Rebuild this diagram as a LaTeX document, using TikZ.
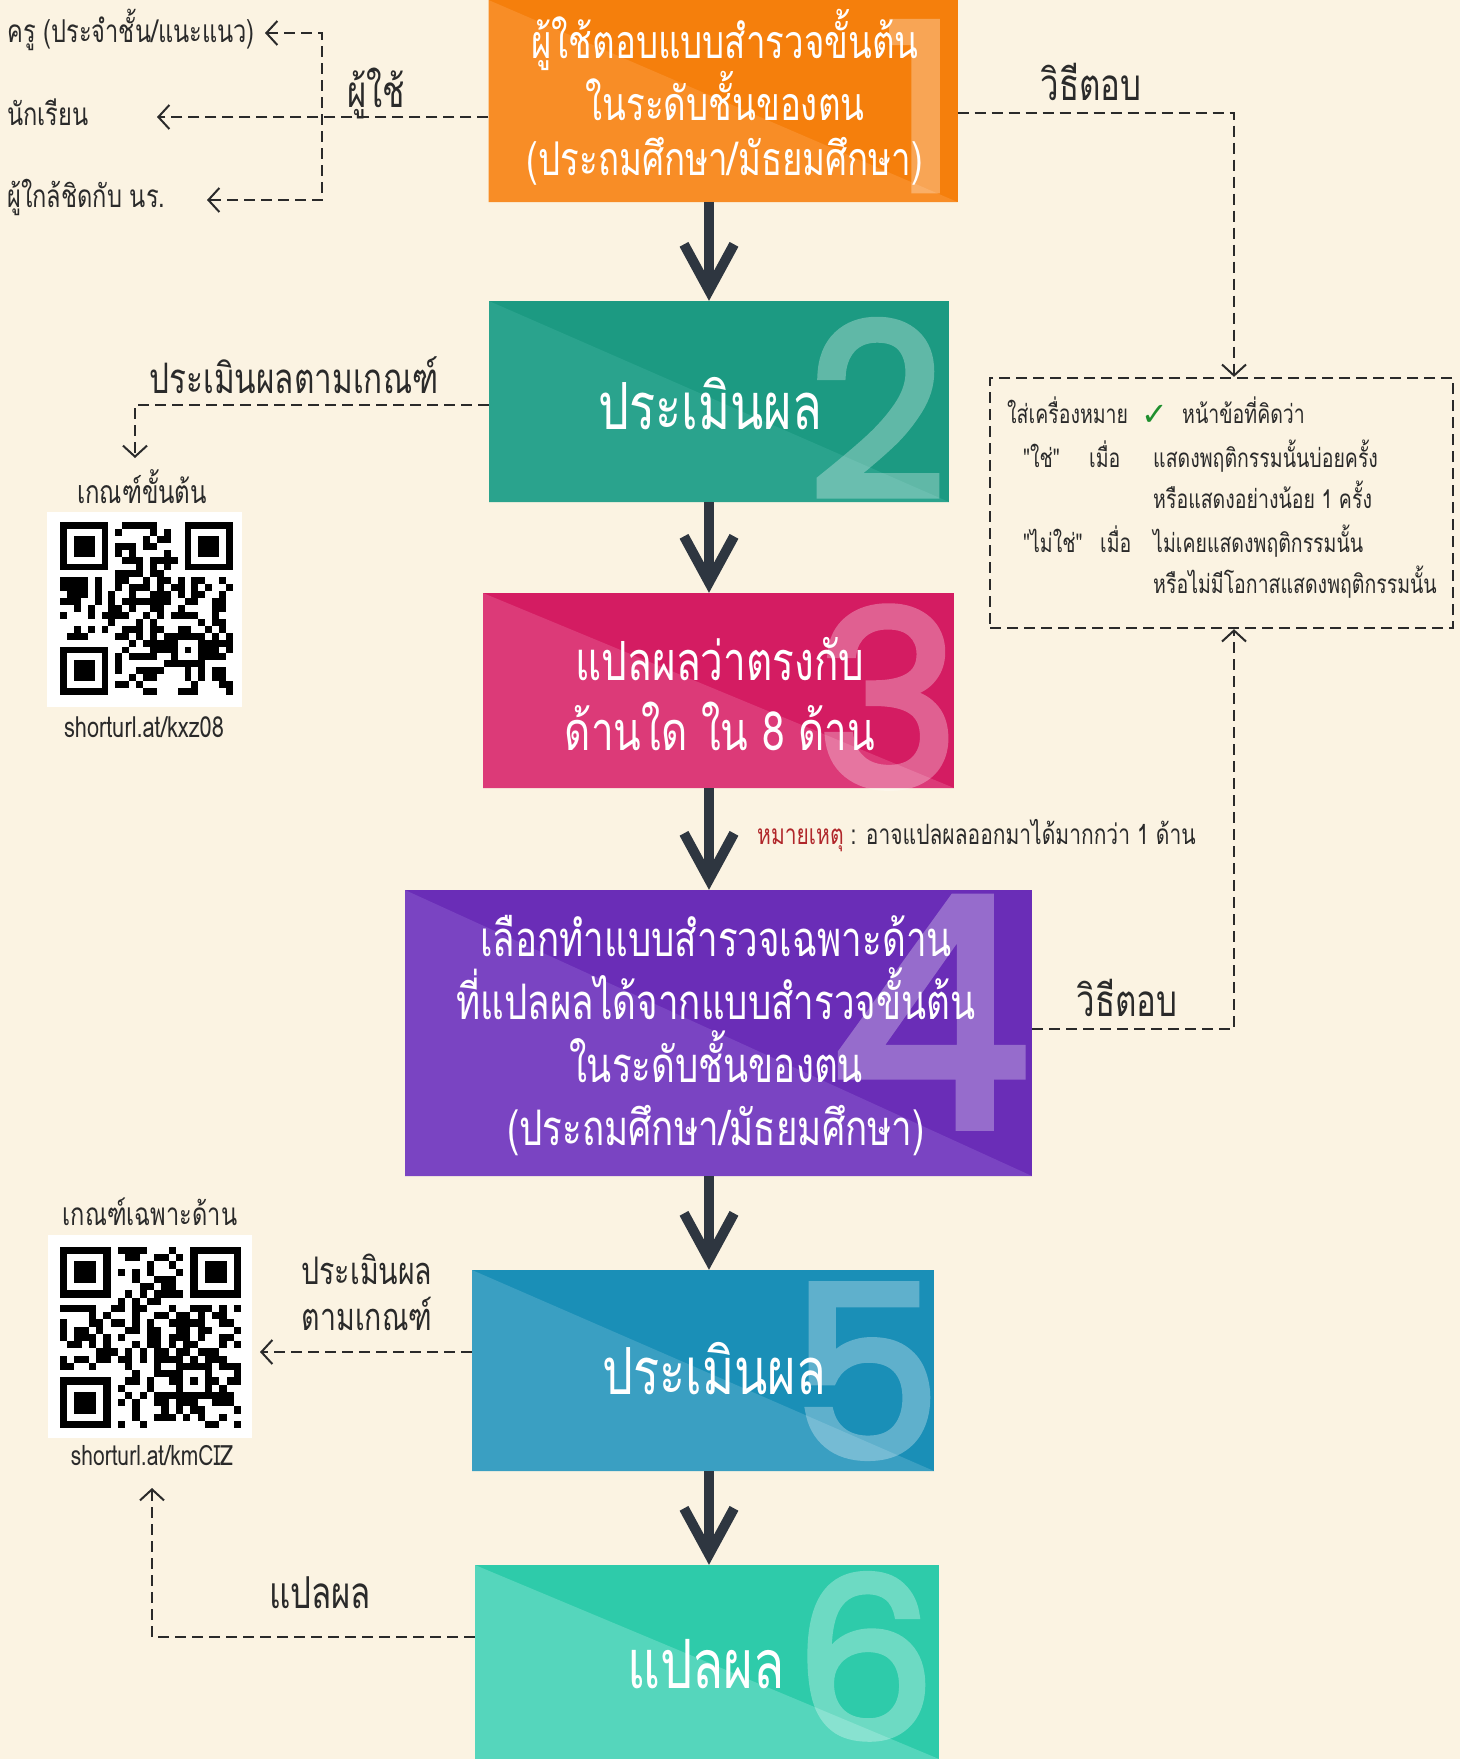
\documentclass[tikz,border=0pt]{standalone}
\usepackage{fontspec}
\usetikzlibrary{arrows.meta}
\newfontfamily\thai[Script=Thai,FakeStretch=0.75]{Loma}
\newfontfamily\numf[FakeBold=3]{Poppins}
\newfontfamily\dv{DejaVu Sans}
\definecolor{bg}{HTML}{FBF3E2}
\definecolor{ink}{HTML}{2A2A2A}
\definecolor{arrowc}{HTML}{2E3640}
\definecolor{noter}{HTML}{B0262A}
\definecolor{chk}{HTML}{1F8F2E}
\definecolor{oA}{HTML}{F57F0C}\definecolor{oB}{HTML}{F88D26}
\definecolor{gA}{HTML}{1C9A82}\definecolor{gB}{HTML}{2AA38D}
\definecolor{pA}{HTML}{D41C62}\definecolor{pB}{HTML}{DC3A78}
\definecolor{vA}{HTML}{6A2DB7}\definecolor{vB}{HTML}{7A44C2}
\definecolor{bA}{HTML}{1A8FB7}\definecolor{bB}{HTML}{3A9FC2}
\definecolor{tA}{HTML}{2ECBAA}\definecolor{tB}{HTML}{55D6BC}
\newcommand\myfs[2]{\fontsize{#1}{#2}\selectfont}
% QR-like pattern: x0, y0, module size, seed
\newcommand\myqr[4]{%
  \pgfmathsetseed{#4}%
  \foreach \i in {0,...,24}{\foreach \j in {0,...,24}{%
    \pgfmathparse{(rnd>0.5)&&!((\i<8)&&(\j<8))&&!((\i>16)&&(\j<8))&&!((\i<8)&&(\j>16))}%
    \ifdim\pgfmathresult pt>0.5pt
      \fill[black] ({#1+\i*#3},{#2+\j*#3}) rectangle ++(#3,#3);
    \fi
  }}%
  \foreach \a/\b in {0/0,18/0,0/18}{%
    \fill[black] ({#1+\a*#3},{#2+\b*#3}) rectangle ++({7*#3},{7*#3});
    \fill[white] ({#1+(\a+1)*#3},{#2+(\b+1)*#3}) rectangle ++({5*#3},{5*#3});
    \fill[black] ({#1+(\a+2)*#3},{#2+(\b+2)*#3}) rectangle ++({3*#3},{3*#3});
  }%
  \fill[black] ({#1+16*#3},{#2+16*#3}) rectangle ++({5*#3},{5*#3});
  \fill[white] ({#1+17*#3},{#2+17*#3}) rectangle ++({3*#3},{3*#3});
  \fill[black] ({#1+18*#3},{#2+18*#3}) rectangle ++({#3},{#3});
}
\tikzset{
  sbarb/.tip={Straight Barb[length=11pt,width=24pt,line width=2pt]},
}
\begin{document}
\begin{tikzpicture}[x=1pt,y=-1pt,
  stepbox/.style n args={2}{fill=#1, inner sep=0pt, path picture={\fill[#2] (path picture bounding box.north west) -- (path picture bounding box.south east) -- (path picture bounding box.south west) -- cycle;}},
  boxtxt/.style={text=white, align=center, inner sep=0pt},
  numtxt/.style={text=white, font=\numf\myfs{#1}{#1}, anchor=base, inner sep=0pt},
  numgrp/.style={transparency group, opacity=0.3},
  lab/.style={text=ink, inner sep=0pt, anchor=base},
  dl/.style={draw=ink, line width=2.3pt, dash pattern=on 11pt off 6pt},
  bigarr/.style={draw=arrowc, line width=10pt, -{Straight Barb[length=46pt,width=50pt,line width=10pt]}},
]
\fill[bg] (0,0) rectangle (1460,1759);
\useasboundingbox (0,0) rectangle (1460,1759);

% ---------- boxes ----------
\node[stepbox={oA}{oB}, minimum width=469pt, minimum height=202pt] (b1) at (723,101) {};
\node[stepbox={gA}{gB}, minimum width=460pt, minimum height=201pt] (b2) at (719,401.5) {};
\node[stepbox={pA}{pB}, minimum width=471pt, minimum height=195pt] (b3) at (718.5,690.5) {};
\node[stepbox={vA}{vB}, minimum width=627pt, minimum height=286pt] (b4) at (718.5,1033) {};
\node[stepbox={bA}{bB}, minimum width=462pt, minimum height=201pt] (b5) at (703,1370.5) {};
\node[stepbox={tA}{tB}, minimum width=464pt, minimum height=194pt] (b6) at (707,1662) {};

% ---------- big numbers ----------
\begin{scope}[numgrp]\node[numtxt=232] (n1) at (921,190) {1};\end{scope}
\begin{scope}[numgrp]\node[numtxt=240] (n2) at (877,497) {2};\end{scope}
\begin{scope}[numgrp]\node[numtxt=243] (n3) at (888,786) {3};\end{scope}
\begin{scope}[numgrp]\node[numtxt=318] (n4) at (930,1126) {4};\end{scope}
\begin{scope}[numgrp]\node[numtxt=238] (n5) at (866,1457) {5};\end{scope}
\begin{scope}[numgrp]\node[numtxt=222] (n6) at (865,1738) {6};\end{scope}

% ---------- box texts ----------
\node[boxtxt, font=\thai\myfs{46.5}{55}] (t1) at (725,97) {ผู้ใช้ตอบแบบสำรวจขั้นต้น\\ในระดับชั้นของตน\\(ประถมศึกษา/มัธยมศึกษา)};
\node[boxtxt, font=\thai\myfs{65}{70}] (t2) at (710,404) {ประเมินผล};
\node[boxtxt, font=\thai\myfs{54}{70}] (t3) at (720,694) {แปลผลว่าตรงกับ\\ด้านใด ใน 8 ด้าน};
\node[boxtxt, font=\thai\myfs{49}{63}] (t4) at (716,1036) {เลือกทำแบบสำรวจเฉพาะด้าน\\ที่แปลผลได้จากแบบสำรวจขั้นต้น\\ในระดับชั้นของตน\\(ประถมศึกษา/มัธยมศึกษา)};
\node[boxtxt, font=\thai\myfs{65}{70}] (t5) at (714,1369) {ประเมินผล};
\node[boxtxt, font=\thai\myfs{68}{70}] (t6) at (706,1664) {แปลผล};

% ---------- main arrows ----------
\coordinate (ax) at (709,0);
\draw[bigarr] (b1.south -| ax) -- (b2.north -| ax);
\draw[bigarr] (b2.south -| ax) -- (b3.north -| ax);
\draw[bigarr] (b3.south -| ax) -- (b4.north -| ax);
\draw[bigarr] (b4.south -| ax) -- (b5.north -| ax);
\draw[bigarr] (b5.south -| ax) -- (b6.north -| ax);

% ---------- top-left users ----------
\node[lab, anchor=base west, font=\thai\myfs{31.5}{31.5}] (kru) at (7,42) {ครู (ประจำชั้น/แนะแนว)};
\node[lab, anchor=base west, font=\thai\myfs{31.5}{31.5}] (nak) at (7,125) {นักเรียน};
\node[lab, anchor=base west, font=\thai\myfs{31.5}{31.5}] (pu) at (7,207) {ผู้ใกล้ชิดกับ นร.};
\node[lab, font=\thai\myfs{44}{44}] (luser) at (376,107) {ผู้ใช้};
\coordinate (jTop) at (322,33);
\coordinate (jBot) at (322,200);
\coordinate (tipKru) at (265,33);
\coordinate (tipNak) at (157,117);
\coordinate (tipPu) at (207,200);
\draw[dl, sbarb-sbarb] (tipKru) -- (jTop) -- (jBot) -- (tipPu);
\draw[dl, -sbarb] ([yshift=-16pt]b1.west) -- (tipNak);

% ---------- right dashed box ----------
\node[draw=ink, line width=2.3pt, dash pattern=on 11pt off 6pt, minimum width=463pt, minimum height=250pt, inner sep=0pt] (db) at (1221.5,503) {};
\coordinate (rx) at (1234,0);
\node[lab, font=\thai\myfs{44}{44}] (lhow1) at (1091,100) {วิธีตอบ};
\draw[dl, -sbarb] ([yshift=-12pt]b1.east) -| (db.north -| rx);
\node[lab, font=\thai\myfs{44}{44}] (lhow2) at (1127,1016) {วิธีตอบ};
\draw[dl, -sbarb] ([yshift=4pt]b4.east) -| (db.south -| rx);

\node[lab, anchor=base west, font=\thai\myfs{26}{26}] (d1a) at (1007,423) {ใส่เครื่องหมาย};
\node[lab, anchor=base west, text=chk, font=\dv\myfs{32}{32}] (d1b) at (1141,425) {✓};
\node[lab, anchor=base west, font=\thai\myfs{26}{26}] (d1c) at (1182,423) {หน้าข้อที่คิดว่า};
\node[lab, anchor=base west, font=\thai\myfs{26}{26}] (d2a) at (1023,467) {"ใช่"};
\node[lab, anchor=base west, font=\thai\myfs{26}{26}] (d2b) at (1089,467) {เมื่อ};
\node[lab, anchor=base west, font=\thai\myfs{26}{26}] (d2c) at (1153,467) {แสดงพฤติกรรมนั้นบ่อยครั้ง};
\node[lab, anchor=base west, font=\thai\myfs{26}{26}] (d3c) at (1153,508) {หรือแสดงอย่างน้อย 1 ครั้ง};
\node[lab, anchor=base west, font=\thai\myfs{26}{26}] (d4a) at (1023,552) {"ไม่ใช่"};
\node[lab, anchor=base west, font=\thai\myfs{26}{26}] (d4b) at (1100,552) {เมื่อ};
\node[lab, anchor=base west, font=\thai\myfs{26}{26}] (d4c) at (1153,552) {ไม่เคยแสดงพฤติกรรมนั้น};
\node[lab, anchor=base west, font=\thai\myfs{26}{26}] (d5c) at (1153,593) {หรือไม่มีโอกาสแสดงพฤติกรรมนั้น};

% ---------- note ----------
\node[lab, anchor=base west, font=\thai\myfs{28}{28}] (note) at (757,844) {{\color{noter}หมายเหตุ} : อาจแปลผลออกมาได้มากกว่า 1 ด้าน};

% ---------- left: first QR ----------
\node[lab, font=\thai\myfs{42}{42}] (lcrit1) at (294,393) {ประเมินผลตามเกณฑ์};
\coordinate (tipQ1) at (135,458);
\draw[dl, -sbarb] ([yshift=-3.5pt]b2.west) -| (tipQ1);
\node[lab, font=\thai\myfs{32}{32}] (lq1) at (142,503) {เกณฑ์ขั้นต้น};
\fill[white] (47,512) rectangle (242,707);
\myqr{60}{522}{6.92}{7}
\node[lab, font=\thai\myfs{29}{29}] (url1) at (144,737) {shorturl.at/kxz08};

% ---------- left: second QR ----------
\node[lab, font=\thai\myfs{31.5}{31.5}] (lq2) at (150,1225) {เกณฑ์เฉพาะด้าน};
\fill[white] (48,1235) rectangle (252,1438);
\myqr{60}{1247}{7.24}{23}
\node[lab, font=\thai\myfs{28}{28}] (url2) at (152,1465) {shorturl.at/kmCIZ};
\node[lab, align=center, font=\thai\myfs{38}{46}] (lcrit2) at (367,1330) {ประเมินผล\\ตามเกณฑ์};
\coordinate (tipQ2a) at (260,1352);
\draw[dl, -sbarb] ([yshift=18.5pt]b5.west) -- (tipQ2a);
\node[lab, font=\thai\myfs{44}{44}] (linterp) at (320,1608) {แปลผล};
\coordinate (tipQ2b) at (152,1488);
\draw[dl, -sbarb] ([yshift=25pt]b6.west) -| (tipQ2b);
\end{tikzpicture}
\end{document}
